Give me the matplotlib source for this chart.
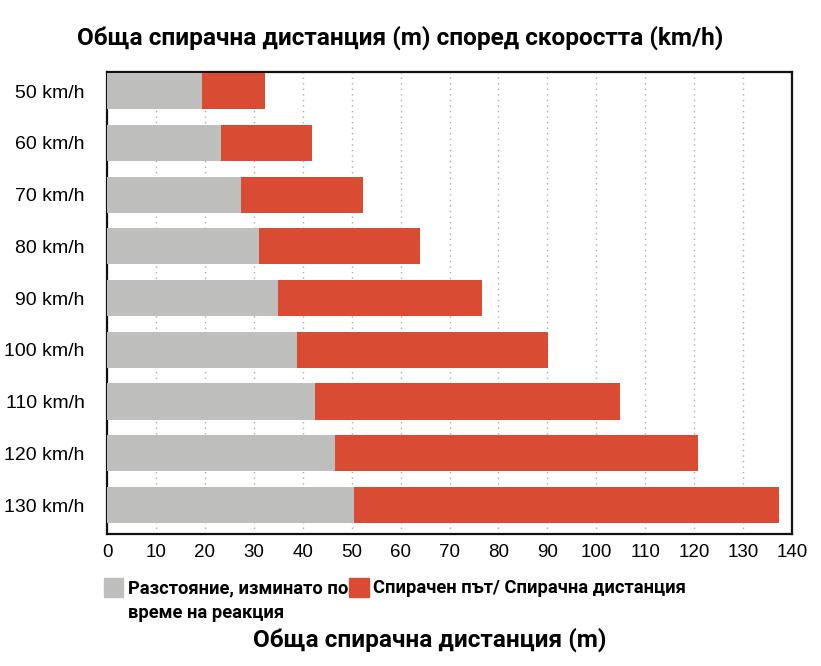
import matplotlib
matplotlib.use("Agg")
import matplotlib.pyplot as plt
from matplotlib.patches import Rectangle

speeds = ["50 km/h", "60 km/h", "70 km/h", "80 km/h", "90 km/h",
          "100 km/h", "110 km/h", "120 km/h", "130 km/h"]
reaction = [19.5, 23.4, 27.3, 31.0, 34.9, 38.8, 42.6, 46.5, 50.4]
braking = [12.7, 18.5, 25.0, 33.0, 41.8, 51.4, 62.2, 74.2, 87.0]
xticks = list(range(0, 141, 10))

title = "Обща спирачна дистанция (m) според скоростта (km/h)"
xlabel = "Обща спирачна дистанция (m)"
leg1a = "Разстояние, изминато по"
leg1b = "време на реакция"
leg2 = "Спирачен път/ Спирачна дистанция"

GRAY = "#BEBFBD"
RED = "#DA4B34"
BOLD = ["Roboto", "DejaVu Sans"]

fig = plt.figure(figsize=(8.21, 6.66), dpi=100)
ax = fig.add_axes([107/821, 1-534/666, (792-107)/821, (534-72)/666])

y = list(range(len(speeds)))
ax.barh(y, reaction, height=0.7, color=GRAY, zorder=3)
ax.barh(y, braking, left=reaction, height=0.7, color=RED, zorder=3)

ax.set_xlim(0, 140)
ax.set_ylim(8.56, -0.37)
ax.set_xticks(xticks)
ax.set_xticklabels([str(t) for t in xticks], fontsize=13.5, family="Liberation Sans")
ax.set_yticks(y)
ax.set_yticklabels(speeds, fontsize=14, family="Liberation Sans")
ax.tick_params(axis="both", length=0)
ax.tick_params(axis="y", pad=16)
ax.tick_params(axis="x", pad=7)
ax.xaxis.grid(True, linestyle=(0, (1, 3)), color="#AAAAAA", linewidth=1, zorder=0)
for s in ax.spines.values():
    s.set_linewidth(1.6)
    s.set_color("#111111")

fig.text(400/821, 1-38/666, title, ha="center", va="center",
         fontsize=17.6, fontweight="bold", family=BOLD)

# legend
fig.patches.append(Rectangle((104/821, 1-597/666), 19/821, 19/666,
                             transform=fig.transFigure, color=GRAY))
fig.text(128/821, 1-588/666, leg1a, ha="left", va="center", fontsize=13.2,
         fontweight="bold", family=BOLD)
fig.text(128/821, 1-613/666, leg1b, ha="left", va="center", fontsize=13.2,
         fontweight="bold", family=BOLD)
fig.patches.append(Rectangle((349/821, 1-597/666), 20/821, 19/666,
                             transform=fig.transFigure, color=RED))
fig.text(373/821, 1-588/666, leg2, ha="left", va="center", fontsize=13.2,
         fontweight="bold", family=BOLD)

fig.text(430/821, 1-640/666, xlabel, ha="center", va="center",
         fontsize=17.6, fontweight="bold", family=BOLD)

fig.savefig("out.png", dpi=100)
